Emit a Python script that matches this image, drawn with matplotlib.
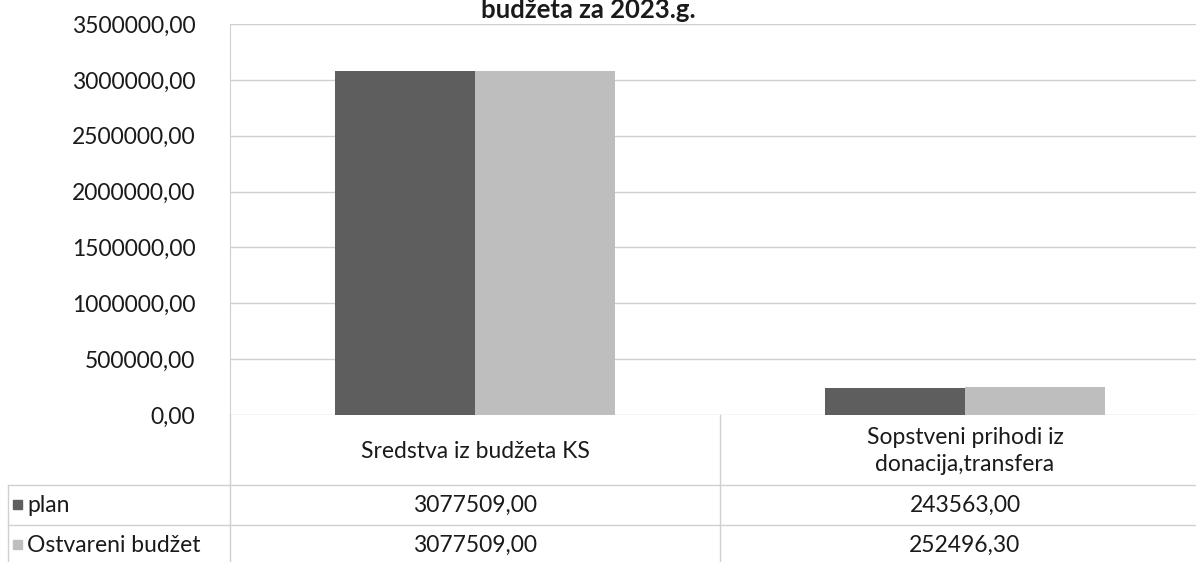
import numpy as np
import matplotlib.pyplot as plt
from matplotlib.lines import Line2D
from matplotlib.patches import Rectangle

plt.rcParams['font.family'] = ['Lato', 'DejaVu Sans']

categories = ['Sredstva iz budžeta KS', 'Sopstveni prihodi iz\ndonacija,transfera']
series_names = ['plan', 'Ostvareni budžet']
plan = [3077509.00, 243563.00]
ostvareno = [3077509.00, 252496.30]
yticks = [0, 500000, 1000000, 1500000, 2000000, 2500000, 3000000, 3500000]
title = 'budžeta za 2023.g.'

colors = ['#5e5e5e', '#bebebe']
grid_c = '#d0d0d0'
txt_c = '#1a1a1a'
fs = 16.5

W, H = 1196, 562
fig = plt.figure(figsize=(W / 100, H / 100), dpi=100)

# plot area in pixels
x0, x1, ytop, ybot = 230, 1210, 24, 415
ax = fig.add_axes([x0 / W, 1 - ybot / H, (x1 - x0) / W, (ybot - ytop) / H])

x = np.arange(len(categories))
bw = 0.285
ax.bar(x - bw / 2, plan, bw, color=colors[0], zorder=3)
ax.bar(x + bw / 2, ostvareno, bw, color=colors[1], zorder=3)

ax.set_xlim(-0.5, len(categories) - 0.5)
ax.set_ylim(0, 3500000)
ax.set_yticks(yticks)
ax.set_yticklabels([f'{v:.2f}'.replace('.', ',') for v in yticks], fontsize=fs, color=txt_c)
ax.tick_params(axis='y', length=0, pad=25)
ax.set_xticks([])
ax.yaxis.grid(True, color=grid_c, linewidth=1)
ax.set_axisbelow(True)
for s in ['top', 'right', 'bottom']:
    ax.spines[s].set_visible(False)
ax.spines['left'].set_color(grid_c)

# title (only its last line is in the picture)
fig.text(588 / W, 1 - 18 / H, title, ha='center', va='baseline',
         fontsize=18.5, fontweight='bold', color=txt_c)

# data table below the axis
def fx(px):
    return px / W

def fy(py):
    return 1 - py / H

line_kw = dict(color=grid_c, linewidth=1, transform=fig.transFigure)
fig.add_artist(Line2D([fx(x0), fx(x0)], [fy(ybot), 0], **line_kw))
fig.add_artist(Line2D([fx(720), fx(720)], [fy(ybot), 0], **line_kw))
fig.add_artist(Line2D([fx(8), fx(8)], [fy(485), 0], **line_kw))
fig.add_artist(Line2D([fx(8), 1], [fy(485), fy(485)], **line_kw))
fig.add_artist(Line2D([fx(8), 1], [fy(525), fy(525)], **line_kw))

col_centers = [475, 965]
for cx, lab in zip(col_centers, categories):
    fig.text(fx(cx), fy(451), lab, ha='center', va='center', fontsize=fs,
             color=txt_c, linespacing=1.3)

row_y = [505, 545]
for ry, name, vals, c in zip(row_y, series_names, [plan, ostvareno], colors):
    fig.add_artist(Rectangle((fx(13), fy(ry + 4)), 9 / W, 9 / H, color=c,
                             transform=fig.transFigure))
    fig.text(fx(27), fy(ry), name, ha='left', va='center', fontsize=fs, color=txt_c)
    for cx, v in zip(col_centers, vals):
        fig.text(fx(cx), fy(ry), f'{v:.2f}'.replace('.', ','), ha='center',
                 va='center', fontsize=fs, color=txt_c)

fig.savefig('out.png', dpi=100)
